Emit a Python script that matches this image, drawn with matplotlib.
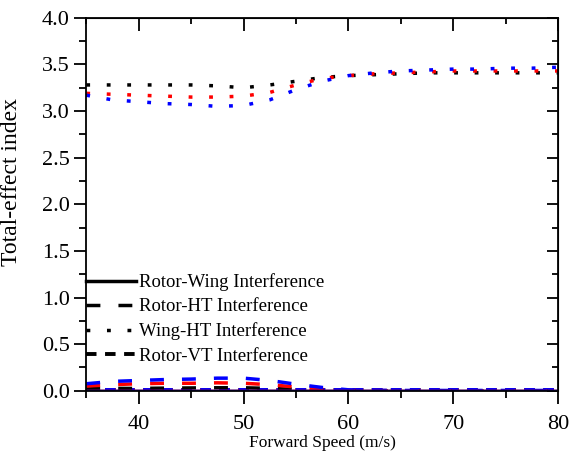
import matplotlib
matplotlib.use('Agg')
import matplotlib.pyplot as plt

plt.rcParams['font.family'] = ['Liberation Serif', 'DejaVu Serif']

# forward speed (m/s)
speed = [35, 37.5, 40, 42.5, 45, 47.5, 50, 52.5, 55, 57.5, 60, 62.5, 65, 67.5, 70, 72.5, 75, 77.5, 80]

# Wing-HT interference (dotted), three cases: black, red, blue
wing_ht_k = [3.28, 3.28, 3.28, 3.28, 3.28, 3.27, 3.25, 3.28, 3.32, 3.36, 3.38, 3.39, 3.40, 3.41, 3.41, 3.41, 3.41, 3.41, 3.41]
wing_ht_r = [3.19, 3.18, 3.17, 3.16, 3.15, 3.15, 3.16, 3.20, 3.28, 3.35, 3.38, 3.40, 3.41, 3.42, 3.43, 3.43, 3.43, 3.43, 3.43]
wing_ht_b = [3.17, 3.12, 3.10, 3.08, 3.07, 3.05, 3.06, 3.12, 3.23, 3.32, 3.38, 3.41, 3.43, 3.44, 3.45, 3.45, 3.46, 3.46, 3.47]

# Rotor-HT interference (dashed)
rotor_ht_k = [0.02, 0.025, 0.025, 0.028, 0.03, 0.032, 0.032, 0.025, 0.015, 0.005, 0.0, 0.0, 0.0, 0.0, 0.0, 0.0, 0.0, 0.0, 0.0]
rotor_ht_r = [0.05, 0.065, 0.075, 0.08, 0.08, 0.085, 0.08, 0.065, 0.04, 0.015, 0.005, 0.002, 0.0, 0.0, 0.0, 0.0, 0.0, 0.0, 0.0]
rotor_ht_b = [0.075, 0.10, 0.11, 0.12, 0.125, 0.135, 0.135, 0.11, 0.07, 0.035, 0.01, 0.005, 0.003, 0.003, 0.003, 0.003, 0.003, 0.003, 0.003]

# Rotor-VT interference (thick dashed) and Rotor-Wing interference (solid), near zero
rotor_vt = [0.005] * 19
rotor_wing = [0.0] * 19

fig, ax = plt.subplots(figsize=(5.79, 4.57), dpi=100)
fig.subplots_adjust(left=0.149, right=0.964, top=0.961, bottom=0.145)

cols = ['k', 'r', 'b']
vt_lines = []
for c in cols:
    p, = ax.plot(speed, rotor_vt, color=c, lw=2.8, dashes=(2.7, 2.2))
    vt_lines.append(p)
ht_lines = []
for c, ys in zip(cols, [rotor_ht_k, rotor_ht_r, rotor_ht_b]):
    p, = ax.plot(speed, ys, color=c, lw=2.5, dashes=(4, 5.2))
    ht_lines.append(p)
wh_lines = []
for c, ys in zip(cols, [wing_ht_k, wing_ht_r, wing_ht_b]):
    p, = ax.plot(speed, ys, color=c, lw=2.5, dashes=(1.1, 4.8))
    wh_lines.append(p)
rw_lines = []
for c in cols:
    p, = ax.plot(speed, rotor_wing, color=c, lw=2.5)
    rw_lines.append(p)

xmaj = [40, 50, 60, 70, 80]
xmin = [35, 45, 55, 65, 75]
ymaj = [0, 0.5, 1.0, 1.5, 2.0, 2.5, 3.0, 3.5, 4.0]
ymin = [0.25, 0.75, 1.25, 1.75, 2.25, 2.75, 3.25, 3.75]

ax.set_xlim(35, 80)
ax.set_ylim(0, 4.0)
ax.set_xticks(xmaj)
ax.set_xticks(xmin, minor=True)
ax.set_yticks(ymaj)
ax.set_yticks(ymin, minor=True)
ax.set_yticklabels(['%.1f' % v for v in ymaj])
ax.tick_params(which='major', direction='out', length=9, width=1.3, labelsize=16)
ax.tick_params(which='minor', direction='out', length=5, width=1.3)
ax.tick_params(axis='x', which='major', pad=8.5)
ax.tick_params(axis='y', which='major', pad=3)
for s in ax.spines.values():
    s.set_linewidth(1.3)

# mirrored ticks on top and right pointing inward
top = ax.secondary_xaxis('top')
top.set_xticks(xmaj)
top.set_xticks(xmin, minor=True)
top.tick_params(which='major', direction='in', length=9, width=1.3, labeltop=False)
top.tick_params(which='minor', direction='in', length=4, width=1.3)
right = ax.secondary_yaxis('right')
right.set_yticks(ymaj)
right.set_yticks(ymin, minor=True)
right.tick_params(which='major', direction='in', length=8, width=1.3, labelright=False)
right.tick_params(which='minor', direction='in', length=4, width=1.3)

ax.set_xlabel('Forward Speed (m/s)', fontsize=12.5, labelpad=1)
ax.set_ylabel('Total-effect index', fontsize=17)
ax.yaxis.set_label_coords(-0.136, 0.56)

ax.legend([rw_lines[0], ht_lines[0], wh_lines[0], vt_lines[0]],
          ['Rotor-Wing Interference', 'Rotor-HT Interference', 'Wing-HT Interference', 'Rotor-VT Interference'],
          loc='upper left', bbox_to_anchor=(-0.016, 0.335), frameon=False, fontsize=13.5,
          handlelength=2.67, handletextpad=0.16, labelspacing=0.38, borderaxespad=0)

plt.savefig('out.png', dpi=100)
